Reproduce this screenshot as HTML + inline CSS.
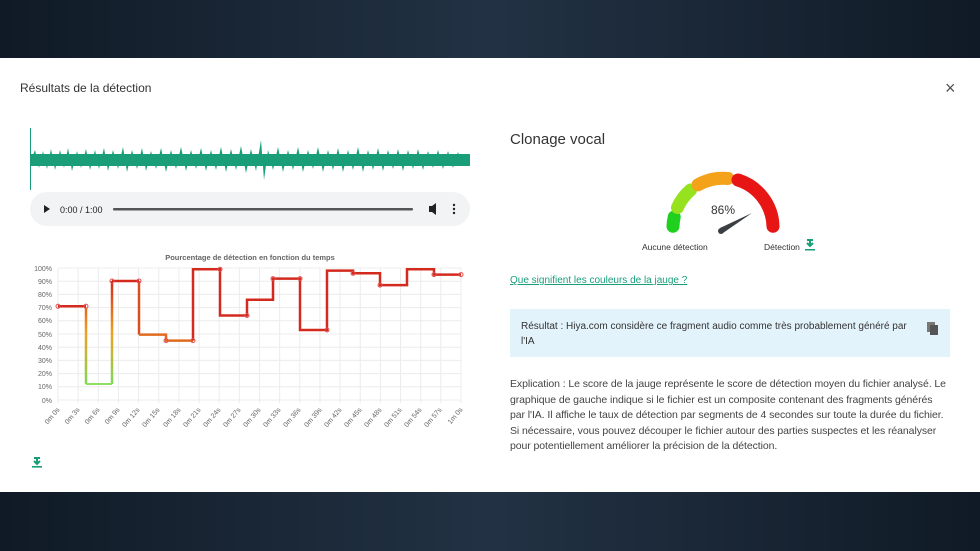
<!DOCTYPE html>
<html><head><meta charset="utf-8"><style>
body{margin:0;width:980px;height:551px;overflow:hidden;background:#15202e;font-family:"Liberation Sans",sans-serif;position:relative}
.top{position:absolute;left:0;top:0;width:980px;height:58px;background:linear-gradient(90deg,#101a26,#223244 50%,#101a26)}
.bot{position:absolute;left:0;top:492px;width:980px;height:59px;background:linear-gradient(90deg,#101a26,#223244 50%,#101a26)}
.panel{position:absolute;left:0;top:58px;width:980px;height:434px;background:#fff}
.t{position:absolute;white-space:nowrap}
</style></head><body>
<div class="top"></div><div class="bot"></div>
<div class="panel"></div>
<div class="t" style="left:20px;top:81px;font-size:12px;color:#333">Résultats de la détection</div>
<div class="t" style="left:945px;top:78px;font-size:18px;color:#555">×</div>
<svg style="position:absolute;left:0;top:0" width="980" height="551">
<!-- waveform -->
<line x1="30.5" y1="128" x2="30.5" y2="190" stroke="#1a9e7a" stroke-width="1"/>
<rect x="31" y="154" width="439" height="12" fill="#1a9e7a"/>
<path d="M31 160 L35 150 L39 168 L43 151 L47 169 L51 149 L55 170 L60 150 L64 168 L68 148 L72 171 L77 151 L81 168 L86 149 L90 170 L95 150 L99 169 L104 148 L108 171 L113 150 L118 169 L123 147 L127 172 L132 150 L137 169 L142 148 L146 171 L151 151 L156 169 L161 148 L166 172 L171 150 L176 169 L181 147 L186 171 L191 150 L196 169 L201 148 L206 171 L211 150 L216 170 L221 147 L226 172 L231 149 L236 170 L241 146 L246 173 L251 149 L256 171 L261 140 L264 180 L268 150 L273 170 L278 147 L283 172 L288 150 L293 170 L298 147 L303 172 L308 150 L313 169 L318 147 L323 172 L328 150 L333 170 L338 148 L343 172 L348 150 L353 170 L358 147 L363 172 L368 150 L373 170 L378 148 L383 171 L388 150 L393 169 L398 149 L403 171 L408 150 L413 169 L418 149 L423 170 L428 151 L433 168 L438 150 L443 169 L448 151 L453 168 L458 152 L463 166 L470 158 Z" fill="#1a9e7a"/>
<!-- audio player -->
<rect x="30" y="192" width="440" height="34" rx="17" fill="#f1f3f4"/>
<path d="M44 205 L50 209 L44 213 Z" fill="#222"/>
<text x="60" y="213" font-size="9" fill="#222">0:00 / 1:00</text>
<rect x="113" y="208" width="300" height="2.5" rx="1" fill="#555"/>
<path d="M429 206 h3 l4 -3 v12 l-4 -3 h-3 Z" fill="#222"/>
<circle cx="454" cy="205" r="1.2" fill="#222"/><circle cx="454" cy="209" r="1.2" fill="#222"/><circle cx="454" cy="213" r="1.2" fill="#222"/>
<!-- chart -->
<text x="250" y="260" font-size="7.5" fill="#666" text-anchor="middle" font-weight="bold">Pourcentage de détection en fonction du temps</text>
<g stroke="#ececec" stroke-width="1">
<line x1="58" y1="268" x2="461" y2="268"/><line x1="58" y1="281.2" x2="461" y2="281.2"/><line x1="58" y1="294.4" x2="461" y2="294.4"/><line x1="58" y1="307.6" x2="461" y2="307.6"/><line x1="58" y1="320.8" x2="461" y2="320.8"/><line x1="58" y1="334" x2="461" y2="334"/><line x1="58" y1="347.2" x2="461" y2="347.2"/><line x1="58" y1="360.4" x2="461" y2="360.4"/><line x1="58" y1="373.6" x2="461" y2="373.6"/><line x1="58" y1="386.8" x2="461" y2="386.8"/><line x1="58" y1="400" x2="461" y2="400"/>
<line x1="58" y1="268" x2="58" y2="403"/><line x1="78.15" y1="268" x2="78.15" y2="403"/><line x1="98.3" y1="268" x2="98.3" y2="403"/><line x1="118.45" y1="268" x2="118.45" y2="403"/><line x1="138.6" y1="268" x2="138.6" y2="403"/><line x1="158.75" y1="268" x2="158.75" y2="403"/><line x1="178.9" y1="268" x2="178.9" y2="403"/><line x1="199.05" y1="268" x2="199.05" y2="403"/><line x1="219.2" y1="268" x2="219.2" y2="403"/><line x1="239.35" y1="268" x2="239.35" y2="403"/><line x1="259.5" y1="268" x2="259.5" y2="403"/><line x1="279.65" y1="268" x2="279.65" y2="403"/><line x1="299.8" y1="268" x2="299.8" y2="403"/><line x1="319.95" y1="268" x2="319.95" y2="403"/><line x1="340.1" y1="268" x2="340.1" y2="403"/><line x1="360.25" y1="268" x2="360.25" y2="403"/><line x1="380.4" y1="268" x2="380.4" y2="403"/><line x1="400.55" y1="268" x2="400.55" y2="403"/><line x1="420.7" y1="268" x2="420.7" y2="403"/><line x1="440.85" y1="268" x2="440.85" y2="403"/><line x1="461" y1="268" x2="461" y2="403"/>
</g>
<g font-size="7" fill="#666" text-anchor="end">
<text x="52" y="271">100%</text><text x="52" y="284">90%</text><text x="52" y="297">80%</text><text x="52" y="310">70%</text><text x="52" y="323">60%</text><text x="52" y="337">50%</text><text x="52" y="350">40%</text><text x="52" y="363">30%</text><text x="52" y="376">20%</text><text x="52" y="389">10%</text><text x="52" y="403">0%</text>
</g>
<g font-size="7" fill="#666" text-anchor="end">
<text transform="translate(60,410) rotate(-50)">0m 0s</text>
<text transform="translate(80,410) rotate(-50)">0m 3s</text>
<text transform="translate(100,410) rotate(-50)">0m 6s</text>
<text transform="translate(120,410) rotate(-50)">0m 9s</text>
<text transform="translate(140,410) rotate(-50)">0m 12s</text>
<text transform="translate(160,410) rotate(-50)">0m 15s</text>
<text transform="translate(181,410) rotate(-50)">0m 18s</text>
<text transform="translate(201,410) rotate(-50)">0m 21s</text>
<text transform="translate(221,410) rotate(-50)">0m 24s</text>
<text transform="translate(241,410) rotate(-50)">0m 27s</text>
<text transform="translate(261,410) rotate(-50)">0m 30s</text>
<text transform="translate(281,410) rotate(-50)">0m 33s</text>
<text transform="translate(301,410) rotate(-50)">0m 36s</text>
<text transform="translate(322,410) rotate(-50)">0m 39s</text>
<text transform="translate(342,410) rotate(-50)">0m 42s</text>
<text transform="translate(362,410) rotate(-50)">0m 45s</text>
<text transform="translate(382,410) rotate(-50)">0m 48s</text>
<text transform="translate(402,410) rotate(-50)">0m 51s</text>
<text transform="translate(422,410) rotate(-50)">0m 54s</text>
<text transform="translate(442,410) rotate(-50)">0m 57s</text>
<text transform="translate(463,410) rotate(-50)">1m 0s</text>
</g>
<defs><linearGradient id="g1" x1="0" y1="0" x2="0" y2="1"><stop offset="0" stop-color="#d42a1e"/><stop offset="0.5" stop-color="#f0a020"/><stop offset="1" stop-color="#7ed957"/></linearGradient></defs>
<path d="M86 307.6 V384 M112 384 V281" stroke="url(#g1)" stroke-width="2.5" fill="none"/>
<line x1="86" y1="384" x2="112" y2="384" stroke="#8ee060" stroke-width="2"/>
<path d="M139 281 V334.6" stroke="#d9501e" stroke-width="2.5"/>
<path d="M139 334.6 H166 V340.6 H193" stroke="#e06a1e" stroke-width="2.5" fill="none"/>
<path d="M58 306.3 H86 M112 281 H139 M193 340.6 V269.3 H220 V315.5 H247 V299.7 H273 V278.6 H300 V330 H327 V270.6 H353 V273.3 H380 V285.1 H407 V269.3 H434 V274.6 H461" stroke="#d42a1e" stroke-width="2.5" fill="none"/>
<g fill="none" stroke="#e05050" stroke-width="1">
<circle cx="58" cy="306.3" r="2"/><circle cx="86" cy="306.3" r="2"/><circle cx="112" cy="281" r="2"/><circle cx="139" cy="281" r="2"/><circle cx="166" cy="340.6" r="2"/><circle cx="193" cy="340.6" r="2"/><circle cx="220" cy="269.3" r="2"/><circle cx="247" cy="315.5" r="2"/><circle cx="273" cy="278.6" r="2"/><circle cx="300" cy="278.6" r="2"/><circle cx="327" cy="330" r="2"/><circle cx="353" cy="273.3" r="2"/><circle cx="380" cy="285.1" r="2"/><circle cx="434" cy="274.6" r="2"/><circle cx="461" cy="274.6" r="2"/>
</g>
<!-- download icons -->
<path d="M34 458 h6 v-0 M37 458 v6 M34 461 l3 3 l3 -3" stroke="#1a9e7a" stroke-width="2" fill="none"/>
<rect x="32" y="466" width="10" height="1.6" fill="#1a9e7a"/>
<!-- gauge -->
<g fill="none" stroke-width="13" stroke-linecap="round">
<path d="M673 226.3 A50 50 0 0 1 674.2 217" stroke="#1fd01f"/>
<path d="M677.5 207.5 A50 50 0 0 1 690.5 190" stroke="#96e21e"/>
<path d="M698 184.8 A50 50 0 0 1 728 178.5" stroke="#f3a21a"/>
<path d="M738 180 A50 50 0 0 1 773 226.3" stroke="#e81515"/>
</g>
<path d="M720 228 L752 213 L723 233 Z" fill="#3a3f44"/>
<circle cx="721" cy="231" r="3" fill="#3a3f44"/>
<text x="723" y="214" font-size="12" fill="#333" text-anchor="middle">86%</text>
<text x="642" y="250" font-size="8.5" fill="#333">Aucune détection</text>
<text x="764" y="250" font-size="8.5" fill="#333">Détection</text>
<path d="M807 240 h6 M810 240 v5 M807 243 l3 3 l3 -3" stroke="#1a9e7a" stroke-width="2" fill="none"/>
<rect x="805" y="249" width="10" height="1.5" fill="#1a9e7a"/>
<!-- result box -->
<rect x="510" y="309" width="440" height="48" fill="#e3f3fb"/>
<rect x="927" y="322" width="8" height="10" fill="#777"/><rect x="930" y="325" width="8" height="10" fill="#555"/>
</svg>
<div class="t" style="left:510px;top:131px;font-size:15px;color:#333">Clonage vocal</div>
<div class="t" style="left:510px;top:275px;font-size:10px;color:#1a9e7a;text-decoration:underline">Que signifient les couleurs de la jauge ?</div>
<div class="t" style="left:521px;top:319px;font-size:10px;line-height:15px;color:#333;white-space:normal;width:390px">Résultat : Hiya.com considère ce fragment audio comme très probablement généré par l'IA</div>
<div class="t" style="left:510px;top:377px;font-size:10.5px;line-height:15.5px;color:#444;letter-spacing:-0.08px">Explication : Le score de la jauge représente le score de détection moyen du fichier analysé. Le<br>graphique de gauche indique si le fichier est un composite contenant des fragments générés<br>par l'IA. Il affiche le taux de détection par segments de 4 secondes sur toute la durée du fichier.<br>Si nécessaire, vous pouvez découper le fichier autour des parties suspectes et les réanalyser<br>pour potentiellement améliorer la précision de la détection.</div>
</body></html>
